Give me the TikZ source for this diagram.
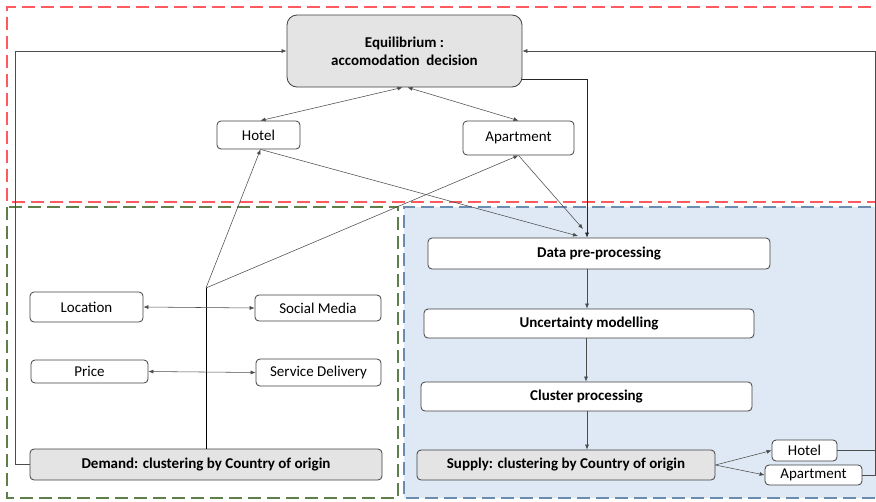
\documentclass[tikz,border=0pt]{standalone}
\usepackage{fontspec}
\setmainfont{Carlito}
\usetikzlibrary{arrows.meta,calc}
\definecolor{redd}{HTML}{FF5A5F}
\definecolor{grnd}{HTML}{5F7F4A}
\definecolor{blud}{HTML}{6A8CAF}
\definecolor{bluf}{HTML}{DFE9F5}
\definecolor{gfill}{HTML}{E4E4E4}
\begin{document}
\begin{tikzpicture}[x=1pt,y=-1pt,
 box/.style={draw=black!75, rounded corners=4pt, fill=white, line width=0.8pt, inner sep=0pt, font=\fontsize{15}{18}\selectfont},
 gbox/.style={box, fill=gfill},
 bf/.style={font=\fontsize{15}{18}\selectfont\bfseries},
 conn/.style={draw=black!70, line width=0.55pt},
 arr/.style={conn, -{Latex[length=5pt,width=4pt]}},
 darr/.style={conn, {Latex[length=5pt,width=4pt]}-{Latex[length=5pt,width=4pt]}},
 zone/.style={line width=2pt, dash pattern=on 13pt off 6pt},
]
\useasboundingbox (0,0) rectangle (876,501);
% zones
\fill[bluf] (404,207) rectangle (890,498);
\draw[zone, blud] (890,207) -- (404,207) -- (404,498) -- (890,498);
\draw[zone, grnd] (7,207) rectangle (398,498);
\draw[zone, redd] (890,7) -- (7,7) -- (7,202) -- (890,202);

% nodes
\node[gbox, bf, rounded corners=10pt, minimum width=235pt, minimum height=72pt, align=center] (eq) at (404.5,51) {Equilibrium :\\accomodation~~decision};
\node[box, minimum width=83pt, minimum height=28pt] (hot) at (258.5,135) {Hotel};
\node[box, minimum width=111pt, minimum height=34pt] (apt) at (518.5,138) {Apartment};
\node[box, bf, minimum width=342pt, minimum height=31pt] (dpp) at (599,253.5) {Data pre-processing};
\node[box, bf, minimum width=330pt, minimum height=29pt] (unc) at (589,323.5) {Uncertainty modelling};
\node[box, bf, minimum width=331pt, minimum height=29pt] (clu) at (586.5,396.5) {Cluster processing};
\node[gbox, bf, minimum width=298pt, minimum height=30pt] (sup) at (566,465) {Supply: clustering by Country of origin};
\node[box, minimum width=65pt, minimum height=21pt] (shot) at (804.5,450.5) {Hotel};
\node[box, minimum width=97pt, minimum height=20pt] (sapt) at (813.5,475) {Apartment};
\node[box, minimum width=113pt, minimum height=30pt] (loc) at (86.5,307) {Location};
\node[box, minimum width=126pt, minimum height=26pt] (soc) at (318,308) {Social Media};
\node[box, minimum width=117pt, minimum height=23pt] (pri) at (89.5,371.5) {Price};
\node[box, minimum width=125pt, minimum height=27pt] (svc) at (318.5,372.5) {Service Delivery};
\node[gbox, bf, minimum width=352pt, minimum height=31pt] (dem) at (206,464.5) {Demand: clustering by Country of origin};

% helper coordinates
\coordinate (lx) at (15,0);
\coordinate (rx) at (875.5,0);
\coordinate (br) at (206,288);
\coordinate (dpA) at (583,229);
\coordinate (dpH) at (578,236);

% connectors
\draw[arr] (dem.west) -- (dem.west -| lx) -- (eq.west -| lx) -- (eq.west);
\draw[arr] (sapt.east -| rx) -- (eq.east -| rx) -- (eq.east);
\draw[conn] (shot.east) -- (shot.east -| rx);
\draw[conn] (sapt.east) -- (sapt.east -| rx);
\draw[darr] ($(eq.south)+(-2,0)$) -- ($(hot.north)+(2,0)$);
\draw[darr] ($(eq.south)+(3,0)$) -- (apt.north);
\draw[arr, black!85] ($(eq.south east)+(0,-8)$) -| (dpp.north -| 587,0);
\draw[arr] ($(hot.south)+(2,0)$) -- (dpH);
\draw[arr] (apt.south) -- (dpA);
\draw[conn, black] (dem.north) -- (br);
\draw[arr] (br) -- ($(hot.south)+(2,0)$);
\draw[arr] (br) -- (apt.south);
\draw[darr] (loc.east) -- (soc.west);
\draw[darr] (pri.east) -- (svc.west);
\draw[arr] (dpp.south -| 587,0) -- (unc.north -| 587,0);
\draw[arr] (unc.south -| 586,0) -- (clu.north -| 586,0);
\draw[arr] (clu.south -| 587,0) -- (sup.north -| 587,0);
\draw[arr] (sup.east) -- (shot.west);
\draw[arr] (sup.east) -- (sapt.west);
\end{tikzpicture}
\end{document}
